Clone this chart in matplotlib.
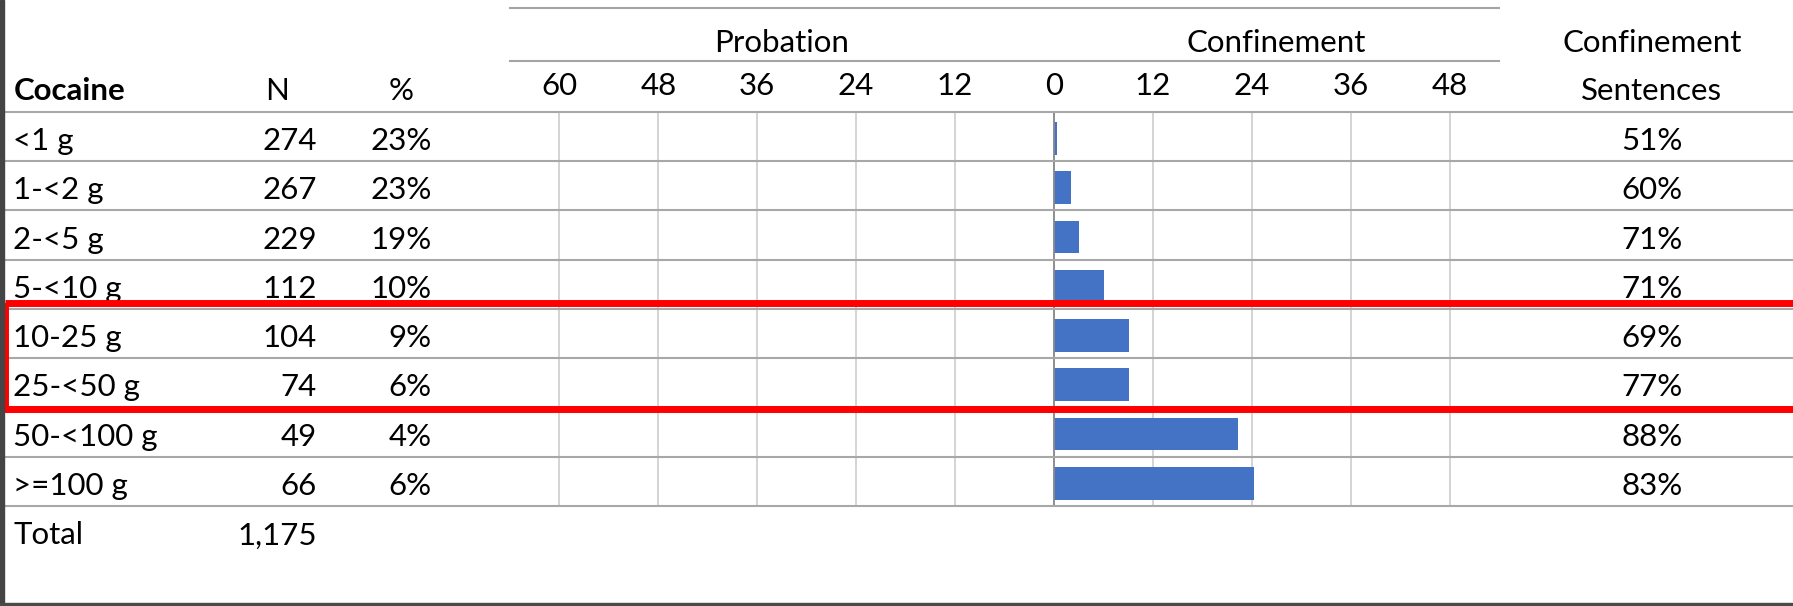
import matplotlib
matplotlib.use("Agg")
import matplotlib.pyplot as plt
from matplotlib import transforms
from matplotlib.lines import Line2D
from matplotlib.patches import Rectangle

# ---------------- data ----------------
categories = ["<1 g", "1-<2 g", "2-<5 g", "5-<10 g", "10-25 g",
              "25-<50 g", "50-<100 g", ">=100 g"]
counts = [274, 267, 229, 112, 104, 74, 49, 66]
count_share = ["23%", "23%", "19%", "10%", "9%", "6%", "4%", "6%"]
confinement_months = [0.4, 2.1, 3.1, 6.1, 9.1, 9.1, 22.3, 24.3]
probation_months = [0, 0, 0, 0, 0, 0, 0, 0]
confinement_rate = ["51%", "60%", "71%", "71%", "69%", "77%", "88%", "83%"]
total_label = "1,175"
tick_values = [-60, -48, -36, -24, -12, 0, 12, 24, 36, 48]
tick_labels = ["60", "48", "36", "24", "12", "0", "12", "24", "36", "48"]
highlight_rows = [4, 5]

# ---------------- layout ----------------
W, H = 1793, 606
FONT = "Lato"
FS = 22.5
plt.rcParams["font.family"] = [FONT, "DejaVu Sans"]

fig = plt.figure(figsize=(W / 100, H / 100), dpi=100)
fig.patch.set_facecolor("white")

def fx(px):
    return px / W

def fy(py_from_top):
    return (H - py_from_top) / H

AX_L, AX_R, AX_T, AX_B = 510, 1499, 111.7, 506
ax = fig.add_axes([fx(AX_L), fy(AX_B), fx(AX_R - AX_L), (AX_B - AX_T) / H])
ax.set_xlim(-66, 54)
ax.set_ylim(len(categories), 0)
for s in ax.spines.values():
    s.set_visible(False)
ax.set_yticks([])
ax.set_xticks(tick_values, labels=tick_labels)
ax.tick_params(axis="x", bottom=False, top=False, labelbottom=False,
               labeltop=True, pad=8.4, labelsize=FS, labelcolor="black")
plt.setp(ax.get_xticklabels(), va="baseline")
ax.grid(axis="x", color="#d4d4d4", lw=1.4, zorder=0)
ax.set_axisbelow(True)

ypos = [i + 0.54 for i in range(len(categories))]
ax.barh(ypos, [-v for v in probation_months], height=0.66, color="#ED7D31", zorder=2)
ax.barh(ypos, confinement_months, height=0.66, color="#4472C4", zorder=2)
ax.axvline(0, color="#8a8a8a", lw=1.3, zorder=3)

# row lines (full width)
row_tr = transforms.blended_transform_factory(fig.transFigure, ax.transData)
for r in range(len(categories) + 1):
    fig.add_artist(Line2D([fx(5), 1.0], [r, r], transform=row_tr,
                          color="#a8a8a8", lw=1.5, zorder=5))

# header group lines
hdr_tr = transforms.blended_transform_factory(ax.transAxes, fig.transFigure)
for yy in (8, 61):
    fig.add_artist(Line2D([0, 1], [fy(yy), fy(yy)], transform=hdr_tr,
                          color="#a4a4a4", lw=1.5, zorder=5))

grp_tr = transforms.blended_transform_factory(ax.transData, fig.transFigure)
xl = ax.get_xlim()
ax.text((xl[0] + 0) / 2, fy(51.7), "Probation", transform=grp_tr,
        ha="center", va="baseline", fontsize=FS)
ax.text((0 + xl[1]) / 2, fy(51.7), "Confinement", transform=grp_tr,
        ha="center", va="baseline", fontsize=FS)

# column headers
fig.text(fx(1652), fy(51.7), "Confinement", ha="center", va="baseline", fontsize=FS)
fig.text(fx(1652), fy(100), "Sentences", ha="center", va="baseline", fontsize=FS)
fig.text(fx(13.4), fy(100), "Cocaine", ha="left", va="baseline", fontsize=FS,
         fontweight="bold")
fig.text(fx(277), fy(100), "N", ha="center", va="baseline", fontsize=FS)
fig.text(fx(401), fy(100), "%", ha="center", va="baseline", fontsize=FS)

# table body
BASE = 0.777
for i, cat in enumerate(categories):
    y = i + BASE
    fig.text(fx(13.4), y, cat, transform=row_tr, ha="left", va="baseline", fontsize=FS)
    fig.text(fx(317), y, f"{counts[i]:,}", transform=row_tr, ha="right",
             va="baseline", fontsize=FS)
    fig.text(fx(432), y, count_share[i], transform=row_tr, ha="right",
             va="baseline", fontsize=FS)
    fig.text(fx(1652), y, confinement_rate[i], transform=row_tr, ha="center",
             va="baseline", fontsize=FS)

yt = len(categories) + BASE
fig.text(fx(13.4), yt, "Total", transform=row_tr, ha="left", va="baseline", fontsize=FS)
fig.text(fx(317), yt, total_label, transform=row_tr, ha="right", va="baseline", fontsize=FS)

# highlight box
r0, r1 = min(highlight_rows), max(highlight_rows) + 1
fig.add_artist(Rectangle((fx(5), r0 - 0.12), 1.2, (r1 + 0.03) - (r0 - 0.12),
                         transform=row_tr, fill=False, edgecolor="#FF0000",
                         lw=5, zorder=10, clip_on=False))

# screenshot frame
fig.add_artist(Rectangle((0, 0), fx(4), 1, transform=fig.transFigure,
                         color="#444444", zorder=11))
fig.add_artist(Rectangle((0, 0), 1, 3 / H, transform=fig.transFigure,
                         color="#4a4a4a", zorder=11))

fig.savefig("out.png", dpi=100)
